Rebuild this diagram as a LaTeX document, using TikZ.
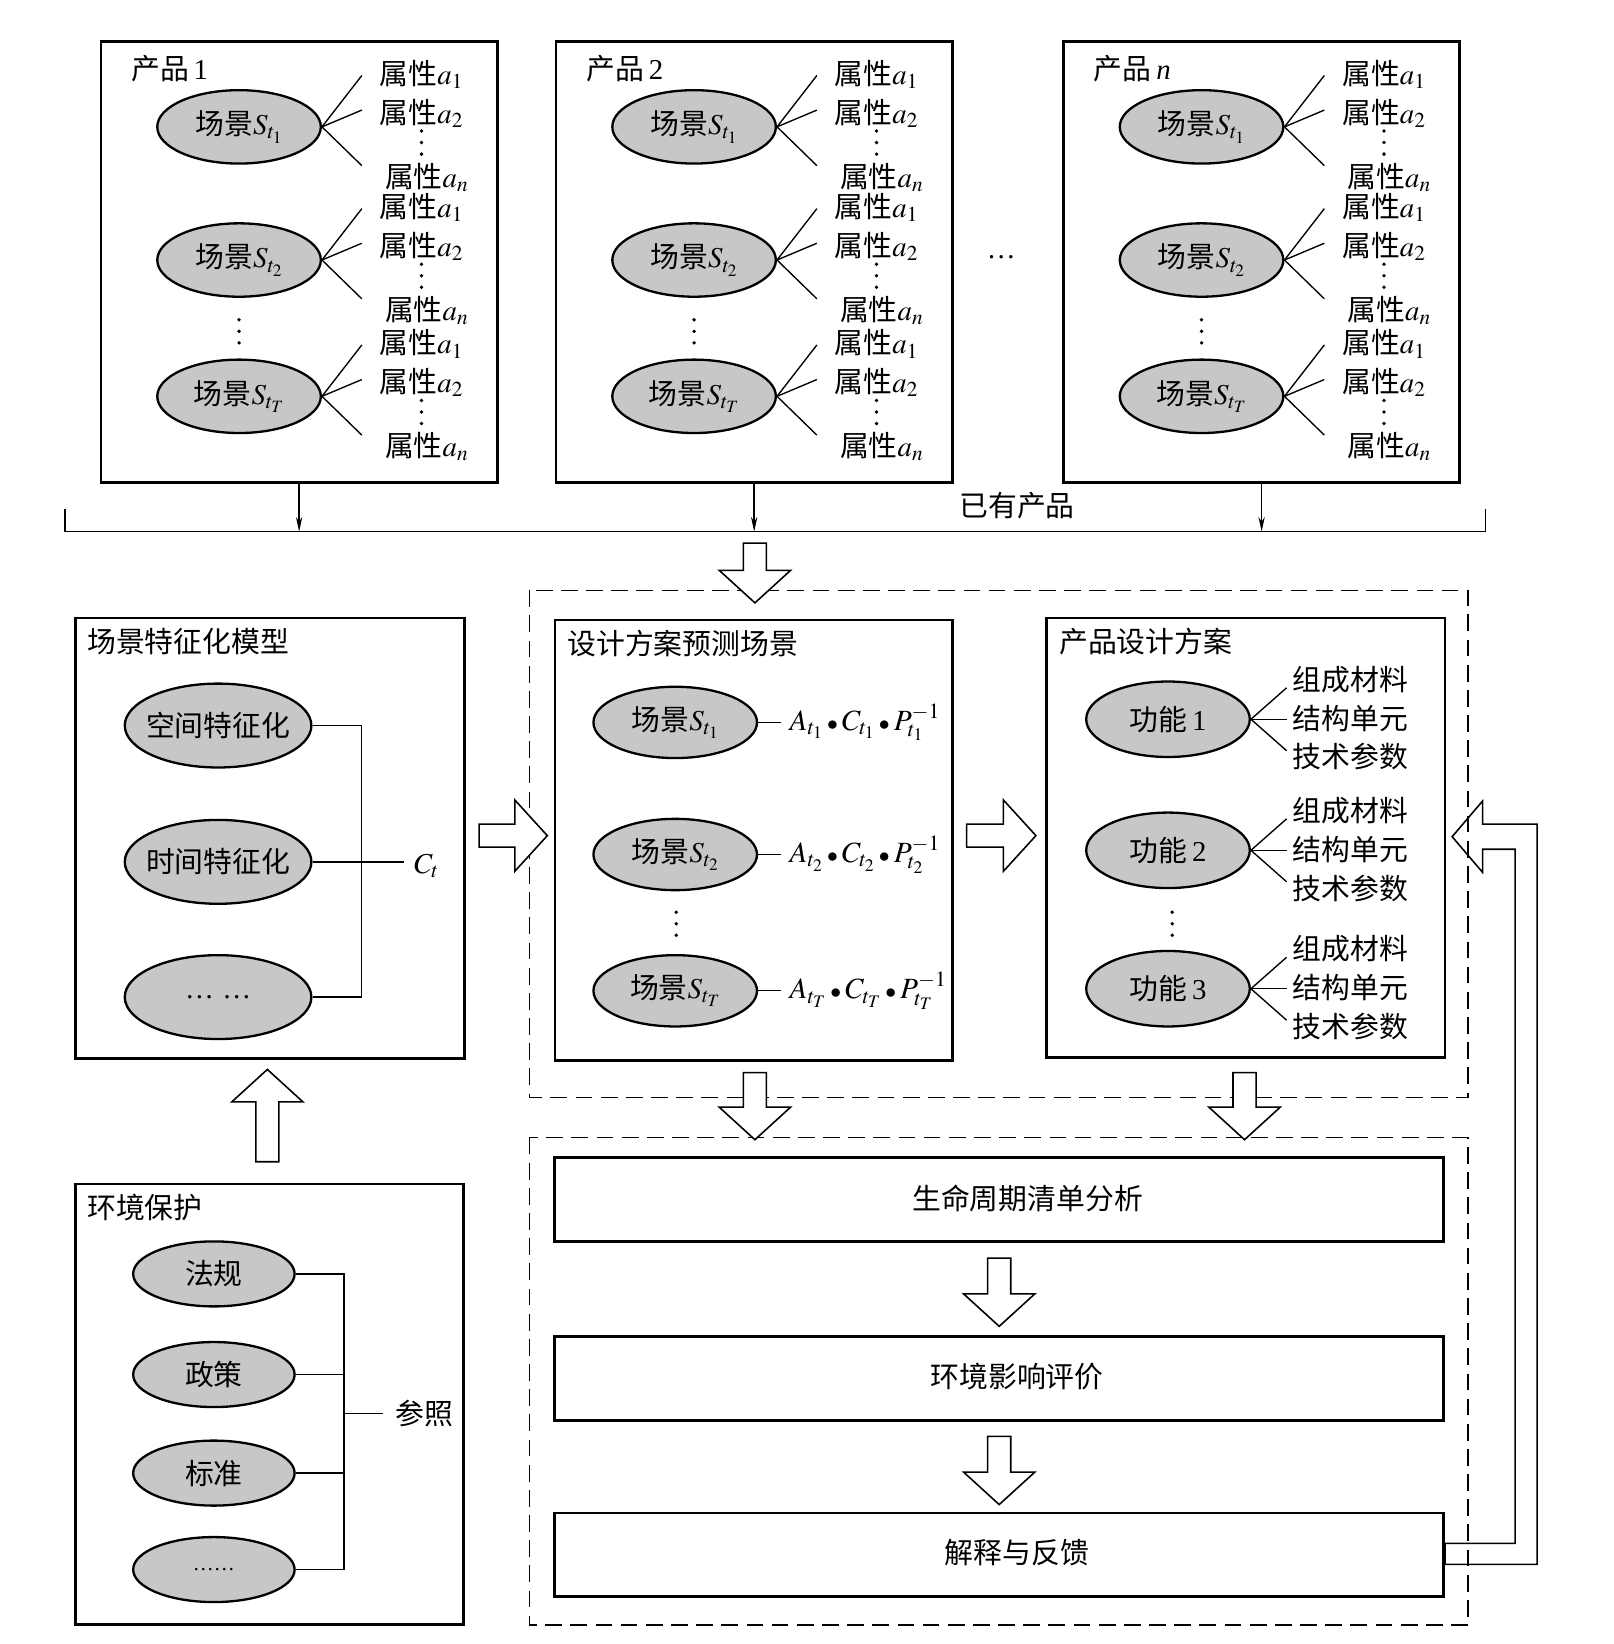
\documentclass[tikz,border=0pt]{standalone}
\usepackage{mathptmx}
\usepackage{fontspec}
\setmainfont{Liberation Serif}
\newfontfamily\cjk{Noto Sans CJK SC}
\usetikzlibrary{shapes.geometric,arrows.meta,calc}
\newcommand\fsz{\fontsize{27.5}{32}\selectfont}
\newcommand\bdot{\mkern2.5mu{\scriptstyle\bullet}\mkern2.5mu}
\tikzset{
  box/.style={draw, line width=2.6pt, rectangle, fill=none},
  ell/.style={draw, ellipse, line width=2.2pt, fill=black!22, minimum width=156pt, minimum height=70pt},
  ellb/.style={draw, ellipse, line width=2.2pt, fill=black!22, minimum width=178pt, minimum height=80pt, inner xsep=-6pt},
  ellc/.style={draw, ellipse, line width=2.2pt, fill=black!22, minimum width=154pt, minimum height=62pt},
  thinline/.style={line width=1.3pt},
  harrow/.style={draw, line width=1.5pt, fill=white, line join=miter},
  dbox/.style={draw, line width=1.3pt, dash pattern=on 16pt off 8pt},
  wide/.style={draw, line width=2.6pt, rectangle, minimum width=848pt, minimum height=80pt},
  formula/.style={anchor=west, font=\fontsize{28}{32}\selectfont},
}
\newcommand\vdts[2]{\foreach \k in {0,1,2} {\fill ({#1},{#2+\k*11}) circle[radius=1.8pt];}}
\newcommand\harr[4]{%
  \draw[harrow,shift={(#1,#2)},rotate=#3] (0,-11) -- ({#4-31},-11) -- ({#4-31},-34) -- (#4,0) -- ({#4-31},34) -- ({#4-31},11) -- (0,11) -- cycle;}
\newcommand\productbox[3]{%
  \node[box, anchor=north west, minimum width=378pt, minimum height=421pt] (#1) at (#2,38) {};
  \node[anchor=west] (#1-t) at ({#2+30},65) {#3};
  \vdts{#2+133}{305}
  \foreach \j/\c in {1/121,2/248,T/378}{%
    \node[ell] (#1-e\j) at ({#2+133},\c) {{\cjk 场景}$S_{t_\j}$};
    \node[anchor=west] (#1-a\j) at ({#2+267},{\c-50}) {{\cjk 属性}$a_1$};
    \node[anchor=west] (#1-b\j) at ({#2+267},{\c-13}) {{\cjk 属性}$a_2$};
    \node[anchor=west] (#1-n\j) at ({#2+272},{\c+48}) {{\cjk 属性}$a_n$};
    \vdts{#2+307}{\c+4}
    \draw[thinline] (#1-e\j.east) -- ++(38,-49);
    \draw[thinline] (#1-e\j.east) -- ++(38,-16);
    \draw[thinline] (#1-e\j.east) -- ++(38,37);
  }%
}
\begin{document}
\begin{tikzpicture}[x=1pt,y=-1pt, every node/.style={inner sep=0pt, font=\fsz}]
\fill[white] (0,0) rectangle (1539,1568);
\useasboundingbox (0,0) rectangle (1539,1568);

% ---------- existing products ----------
\productbox{p1}{95}{{\cjk 产品}\,1}
\productbox{p2}{529}{{\cjk 产品}\,2}
\productbox{pn}{1013}{{\cjk 产品}\,\textit{n}}
\node (hdots) at (955,245) {…};

\coordinate (busL) at (62,507);
\coordinate (busR) at (1417,507);
\draw[thinline] ([yshift=22pt]busL) -- (busL) -- (busR) -- ([yshift=22pt]busR);
\foreach \p in {p1,p2,pn}{
  \draw[thinline,-{Stealth[length=14pt,width=6pt]}] (\p.south) -- (\p.south |- busL);
}
\node (exist) at (970,482) {\cjk 已有产品};

% ---------- dashed groups ----------
\draw[dbox] (505,563) rectangle (1400,1047);
\draw[dbox] (505,1085) rectangle (1400,1550);

% ---------- scene characterisation model ----------
\node[box, anchor=north west, minimum width=371pt, minimum height=420pt] (scm) at (71,588) {};
\node[anchor=west] (scm-t) at (83,612) {\cjk 场景特征化模型};
\node[ellb] (sp) at (208,692) {\cjk 空间特征化};
\node[ellb] (tm) at (208,822) {\cjk 时间特征化};
\node[ellb] (etc1) at (208,951) {…\hspace{8pt}…};
\coordinate (jn) at (345,692);
\draw[thinline] (sp.east) -- (jn) -- (jn |- etc1) -- (etc1.east);
\node[anchor=west] (ct) at (395,826) {$C_t$};
\draw[thinline] (tm.east) -- ([xshift=-10pt]ct.west |- tm.east);

% ---------- design scenario prediction ----------
\node[box, anchor=north west, minimum width=379pt, minimum height=420pt] (dss) at (528,590) {};
\node[anchor=west] (dss-t) at (541,614) {\cjk 设计方案预测场景};
\node[ell, minimum height=68pt] (d1) at (644,689) {{\cjk 场景}$S_{t_1}$};
\node[ell, minimum height=68pt] (d2) at (644,815) {{\cjk 场景}$S_{t_2}$};
\node[ell, minimum height=68pt] (dT) at (644,945) {{\cjk 场景}$S_{t_T}$};
\node[formula] (f1) at (753,689) {$A_{t_1}\bdot C_{t_1}\bdot P_{t_1}^{-1}$};
\node[formula] (f2) at (753,815) {$A_{t_2}\bdot C_{t_2}\bdot P_{t_2}^{-1}$};
\node[formula] (fT) at (753,945) {$A_{t_T}\bdot C_{t_T}\bdot P_{t_T}^{-1}$};
\foreach \a/\b in {d1/f1,d2/f2,dT/fT}{
  \draw[thinline] (\a.east) -- ([xshift=-8pt]\b.west |- \a.east);
}
\vdts{645}{870}

% ---------- product design scheme ----------
\node[box, anchor=north west, minimum width=380pt, minimum height=419pt] (pds) at (997,588) {};
\node[anchor=west] (pds-t) at (1010,612) {\cjk 产品设计方案};
\foreach \i/\c in {1/686,2/811,3/943}{
  \node[ell, minimum height=72pt] (g\i) at (1114,\c) {{\cjk 功能}\,\i};
  \node[anchor=west] (m\i) at (1233,{\c-38}) {\cjk 组成材料};
  \node[anchor=west] (s\i) at (1233,{\c-1}) {\cjk 结构单元};
  \node[anchor=west] (r\i) at (1233,{\c+36}) {\cjk 技术参数};
  \draw[thinline] (g\i.east) -- ++(34,-30);
  \draw[thinline] (g\i.east) -- ++(34,0);
  \draw[thinline] (g\i.east) -- ++(34,30);
}
\vdts{1118}{870}

% ---------- evaluation chain ----------
\node[wide] (lca) at (953,1144) {};
\node (lca-t) at (980,1143) {\cjk 生命周期清单分析};
\node[wide] (eia) at (953,1315) {};
\node (eia-t) at (970,1313) {\cjk 环境影响评价};
\node[wide] (fb) at (953,1483) {};
\node (fb-t) at (970,1481) {\cjk 解释与反馈};

% ---------- environmental protection ----------
\node[box, anchor=north west, minimum width=370pt, minimum height=420pt] (env) at (71,1128) {};
\node[anchor=west] (env-t) at (83,1152) {\cjk 环境保护};
\node[ellc] (fa) at (204,1215) {\cjk 法规};
\node[ellc] (zc) at (204,1311) {\cjk 政策};
\node[ellc] (bz) at (204,1405) {\cjk 标准};
\node[ellc] (etc2) at (204,1497) {\fontsize{20}{24}\selectfont ……};
\coordinate (jr) at (328,1215);
\draw[thinline] (fa.east) -- (jr) -- (jr |- etc2) -- (etc2.east);
\draw[thinline] (zc.east) -- (zc.east -| jr);
\draw[thinline] (bz.east) -- (bz.east -| jr);
\coordinate (jm) at (328,1348);
\node[anchor=west] (cz) at (377,1348) {\cjk 参照};
\draw[thinline] (jm) -- ([xshift=-12pt]cz.west);

% ---------- hollow arrows ----------
\harr{720}{518}{-90}{57}
\harr{457}{797}{0}{65}
\harr{922}{797}{0}{66}
\harr{720}{1023}{-90}{64}
\harr{1187}{1023}{-90}{64}
\harr{953}{1200}{-90}{65}
\harr{953}{1370}{-90}{65}
\harr{255}{1108}{90}{88}

% feedback arrow
\draw[line width=1.5pt, line join=miter] (1385,798) -- (1414,764) -- (1414,786) -- (1466,786) -- (1466,1492) -- (fb.east |- 0,1492) -- (fb.east |- 0,1472) -- (1445,1472) -- (1445,810) -- (1414,810) -- (1414,832) -- cycle;
\end{tikzpicture}
\end{document}
